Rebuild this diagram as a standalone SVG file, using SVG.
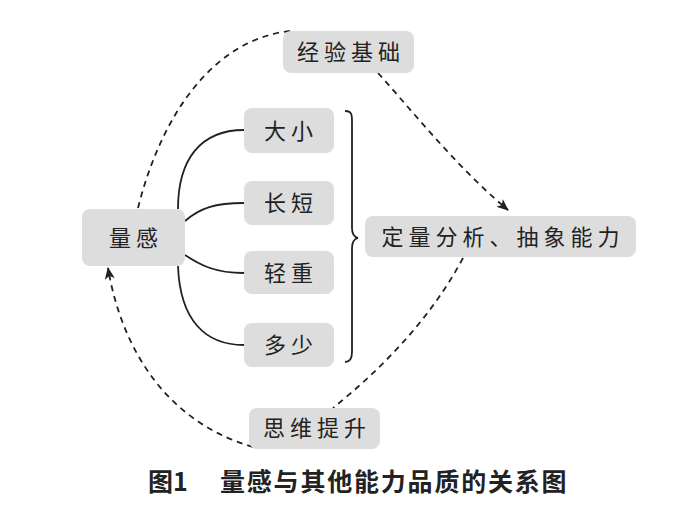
<svg xmlns="http://www.w3.org/2000/svg" width="700" height="528" viewBox="0 0 700 528">
<defs>
<style>
.box{fill:#dddddd;}
.t{font-family:"Noto Sans CJK SC","Noto Sans CJK JP",sans-serif;font-size:22px;fill:#222;text-anchor:middle;letter-spacing:5px;}
.cap{font-family:"Noto Sans CJK SC",sans-serif;font-size:25px;font-weight:bold;fill:#222;}
.solid{fill:none;stroke:#222;stroke-width:1.8;}
.dash{fill:none;stroke:#222;stroke-width:1.8;stroke-dasharray:6,5;}
</style>
<marker id="arr" viewBox="0 0 12 10" refX="11" refY="5" markerWidth="12" markerHeight="10" markerUnits="userSpaceOnUse" orient="auto">
<path d="M0,0 L12,5 L0,10 L3,5 Z" fill="#222"/>
</marker>
</defs>
<rect width="700" height="528" fill="#fff"/>
<g id="connectors">
<path class="solid" d="M178,209 C178,160 200,130 244,130"/>
<path class="solid" d="M185,221 C200,208 215,203 244,203"/>
<path class="solid" d="M185,255 C200,265 215,273 244,273"/>
<path class="solid" d="M178,266 C180,320 205,345 244,345"/>
<path class="solid" d="M345,111 C352,111 352,115 352,122 L352,228 C352,234 354,237 358,238 C354,239 352,242 352,248 L352,352 C352,359 350,362 345,362"/>
<path class="dash" d="M138,208 C160,120 210,40 290,31"/>
<path class="dash" d="M378,73 C420,120 460,170 508,210" marker-end="url(#arr)"/>
<path class="dash" d="M463,258 C430,320 380,370 333,408"/>
<path class="dash" d="M253,447 C160,420 120,340 108,268" marker-end="url(#arr)"/>
</g>
<g id="n-liangan"><rect class="box" x="82" y="209" width="103" height="57" rx="8"/><text class="t" x="136" y="246">量感</text></g>
<g id="n-daxiao"><rect class="box" x="244" y="108" width="90" height="45" rx="8"/><text class="t" x="291" y="139">大小</text></g>
<g id="n-changduan"><rect class="box" x="244" y="181" width="90" height="44" rx="8"/><text class="t" x="291" y="211">长短</text></g>
<g id="n-qingzhong"><rect class="box" x="244" y="251" width="90" height="43" rx="8"/><text class="t" x="291" y="281">轻重</text></g>
<g id="n-duoshao"><rect class="box" x="244" y="323" width="90" height="44" rx="8"/><text class="t" x="291" y="353">多少</text></g>
<g id="n-dingliang"><rect class="box" x="365" y="216" width="271" height="41" rx="8"/><text class="t" x="503" y="245">定量分析、抽象能力</text></g>
<g id="n-jingyan"><rect class="box" x="283" y="31" width="131" height="42" rx="8"/><text class="t" x="351" y="60">经验基础</text></g>
<g id="n-siwei"><rect class="box" x="249" y="408" width="131" height="41" rx="8"/><text class="t" x="317" y="436">思维提升</text></g>
<text class="cap" x="148" y="491">图1</text>
<text class="cap" x="220" y="491" letter-spacing="1.8">量感与其他能力品质的关系图</text>
</svg>
